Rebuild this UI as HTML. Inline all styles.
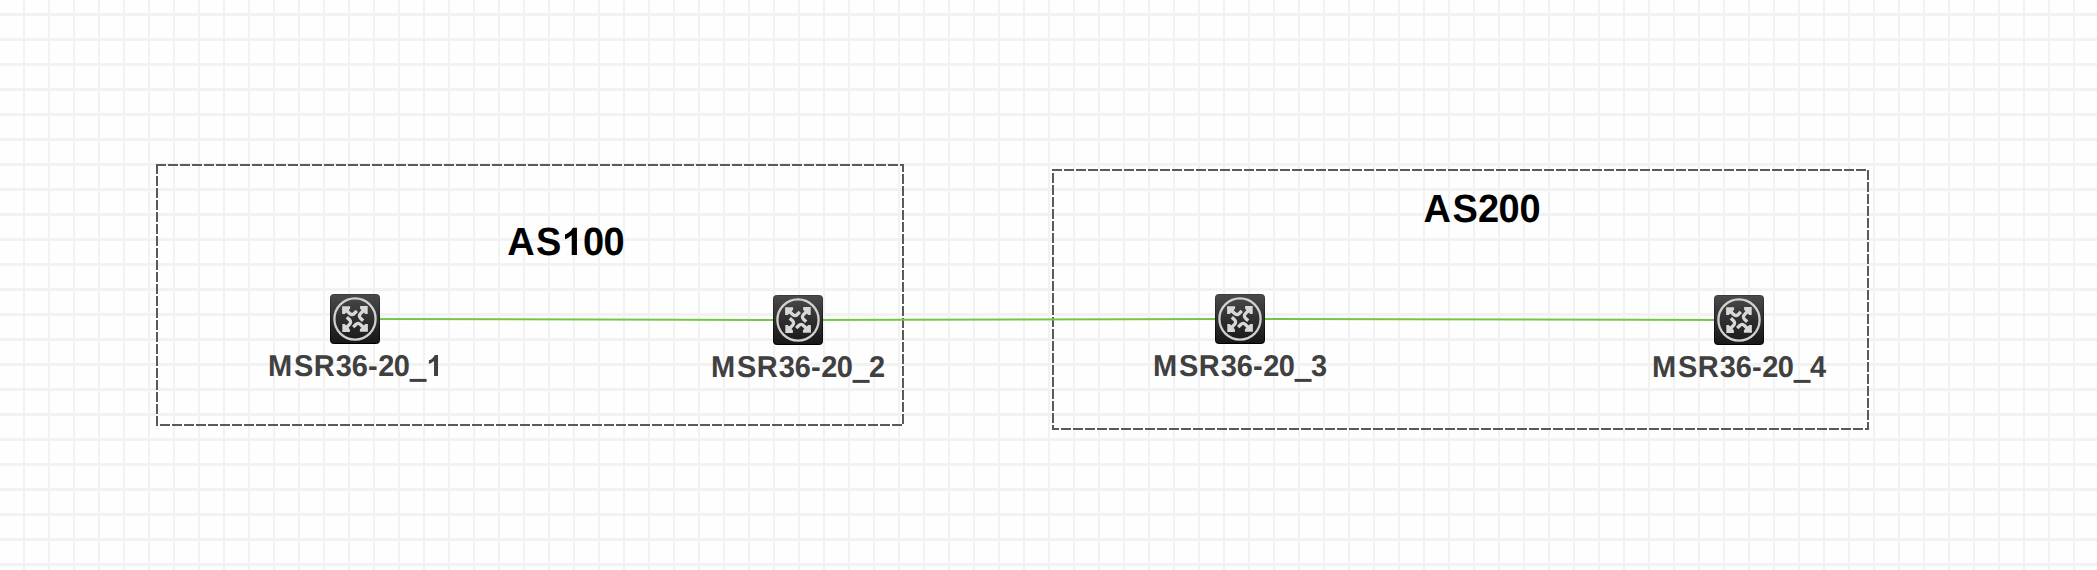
<!DOCTYPE html>
<html>
<head>
<meta charset="utf-8">
<title>AS100 / AS200 topology</title>
<style>
  html, body { margin: 0; padding: 0; }
  body {
    width: 2097px; height: 570px; overflow: hidden; position: relative;
    background-color: #fefefe;
    background-image:
      linear-gradient(to right, transparent 23px, #f2f2f2 23px, #f2f2f2 25px),
      linear-gradient(to bottom, transparent 13px, #f2f2f2 13px, #f2f2f2 16px, transparent 16px);
    background-size: 25px 25px, 25px 25px;
    background-position: 0 0, 0 0;
    font-family: "Liberation Sans", sans-serif;
  }
  svg.layer { position: absolute; left: 0; top: 0; width: 2097px; height: 570px; }
  svg text { font-family: "Liberation Sans", sans-serif; font-weight: bold; text-rendering: geometricPrecision; }
</style>
</head>
<body>
<svg class="layer" width="2097" height="570" viewBox="0 0 2097 570">
  <defs>
    <linearGradient id="bg" x1="0" y1="0" x2="0" y2="1">
      <stop offset="0" stop-color="#4a4a4a"/>
      <stop offset="0.5" stop-color="#2f2f2f"/>
      <stop offset="1" stop-color="#171717"/>
    </linearGradient>
    <linearGradient id="bd" x1="0" y1="0" x2="0" y2="1">
      <stop offset="0" stop-color="#3a3a3a"/>
      <stop offset="1" stop-color="#000000"/>
    </linearGradient>
    <g id="arrow">
      <polygon points="12.1,12.3 20.1,12.3 20.1,14.7 14.7,19.9 12.1,19.9" fill="#d8d8d8"/>
      <path d="M15.5,15.5 L19.4,19.3 Q22,21.8 24.2,19.5 L26.8,16.8" fill="none" stroke="#d8d8d8" stroke-width="3.3" stroke-linecap="butt" stroke-linejoin="round"/>
    </g>
    <g id="router">
      <rect x="0.5" y="0.5" width="49" height="49" rx="3" ry="3" fill="url(#bg)" stroke="url(#bd)" stroke-width="1"/>
      <circle cx="25" cy="25" r="20.6" fill="none" stroke="#d0d0d0" stroke-width="2.3"/>
      <use href="#arrow"/>
      <use href="#arrow" transform="rotate(90 25 25)"/>
      <use href="#arrow" transform="rotate(180 25 25)"/>
      <use href="#arrow" transform="rotate(270 25 25)"/>
    </g>
  </defs>

  <!-- AS boxes -->
  <rect x="157" y="165" width="746" height="260" fill="none" stroke="#5a5a5a" stroke-width="2" stroke-dasharray="8 4" stroke-linecap="square"/>
  <rect x="1053" y="170" width="815" height="259" fill="none" stroke="#5a5a5a" stroke-width="2" stroke-dasharray="8 4" stroke-linecap="square"/>

  <!-- links -->
  <g stroke="#76c646" stroke-width="2" fill="none">
    <line x1="355" y1="319" x2="798" y2="320"/>
    <line x1="798" y1="320" x2="1240" y2="319"/>
    <line x1="1240" y1="319" x2="1739" y2="320"/>
  </g>

  <!-- routers -->
  <use href="#router" x="330" y="294"/>
<use href="#router" x="773" y="295"/>
<use href="#router" x="1215" y="294"/>
<use href="#router" x="1714" y="295"/>

  <!-- AS titles -->
  <g fill="#000">
    <g transform="translate(0 255) scale(1 1.035)"><text x="507.35 536" y="0" font-size="38">AS</text><text x="582.9 603.5" y="0" font-size="38">00</text></g>
    <path transform="translate(561.99 255) scale(0.01855 -0.01855)" d="M806 0H525V1059Q371 915 162 846V1101Q272 1137 401 1237.5Q530 1338 578 1472H806Z"/>
    <g transform="translate(0 222) scale(1 1.035)"><text x="1423.55 1452.4 1478.1 1498.5 1519.6" y="0" font-size="38">AS200</text></g>
  </g>

  <!-- device labels -->
  <g fill="#404040">
    <g transform="translate(0 375.9) scale(1 1.035)"><text x="267.9 293.96 313.8 335.74 351.86 367.98 378.14 393.76" y="0" font-size="29">MSR36-20</text>
    </g>
    <rect x="409.6" y="378.9" width="17" height="3" />
    <path transform="translate(426.6 375.9) scale(0.01416 -0.01416)" d="M806 0H525V1059Q371 915 162 846V1101Q272 1137 401 1237.5Q530 1338 578 1472H806Z"/>
    <g transform="translate(0 376.9) scale(1 1.035)"><text x="710.9 736.96 756.8 778.74 794.86 810.98 821.14 836.76" y="0" font-size="29">MSR36-20</text>
    <text x="869.1" y="0" font-size="29">2</text>
    </g>
    <rect x="852.6" y="379.9" width="17" height="3" />
    <g transform="translate(0 375.9) scale(1 1.035)"><text x="1152.9 1178.96 1198.8 1220.74 1236.86 1252.98 1263.14 1278.76" y="0" font-size="29">MSR36-20</text>
    <text x="1311.1" y="0" font-size="29">3</text>
    </g>
    <rect x="1294.6" y="378.9" width="17" height="3" />
    <g transform="translate(0 376.9) scale(1 1.035)"><text x="1651.9 1677.96 1697.8 1719.74 1735.86 1751.98 1762.14 1777.76" y="0" font-size="29">MSR36-20</text>
    <text x="1810.1" y="0" font-size="29">4</text>
    </g>
    <rect x="1793.6" y="379.9" width="17" height="3" />
  </g>
</svg>
</body>
</html>
